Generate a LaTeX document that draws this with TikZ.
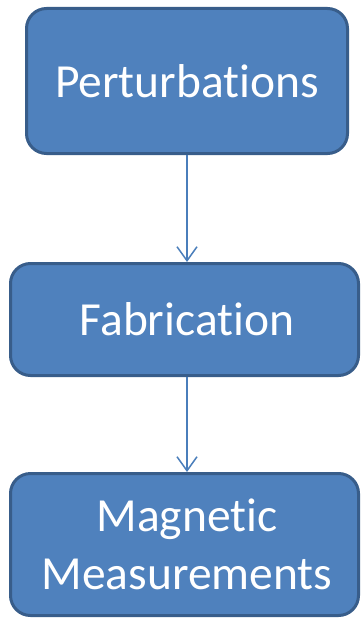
\documentclass[tikz,border=0pt]{standalone}
\usepackage{fontspec}
\setmainfont[Ligatures={NoCommon}]{Carlito}
\usetikzlibrary{arrows.meta}
\definecolor{boxfill}{HTML}{4F81BD}
\definecolor{boxline}{HTML}{385D8A}
\definecolor{arrowcol}{HTML}{4A7EBB}
\begin{document}
\begin{tikzpicture}[x=1pt,y=-1pt,
  stagebox/.style={draw=boxline, fill=boxfill, line width=3pt, rounded corners=20pt,
    text=white, inner sep=0pt, align=center, font=\fontsize{47.5}{58}\selectfont},
  flow/.style={draw=arrowcol, line width=1.5pt, -{Straight Barb[length=14pt,width=20pt]}}]
\useasboundingbox (0,0) rectangle (360,618);
\node[stagebox, minimum width=321pt, minimum height=145pt] (pert) at (187,81) {Perturbations};
\node[stagebox, minimum width=348pt, minimum height=112pt] (fab) at (184.5,319.5) {\hspace*{5pt}Fabrication};
\node[stagebox, minimum width=348pt, minimum height=142pt] (mag) at (184.5,544.5) {\hspace*{5pt}Magnetic\\\hspace*{5pt}Measurements};
\draw[flow] (pert.south -| 187,0) -- (fab.north -| 187,0);
\draw[flow] (fab.south -| 187,0) -- (mag.north -| 187,0);
\end{tikzpicture}
\end{document}
